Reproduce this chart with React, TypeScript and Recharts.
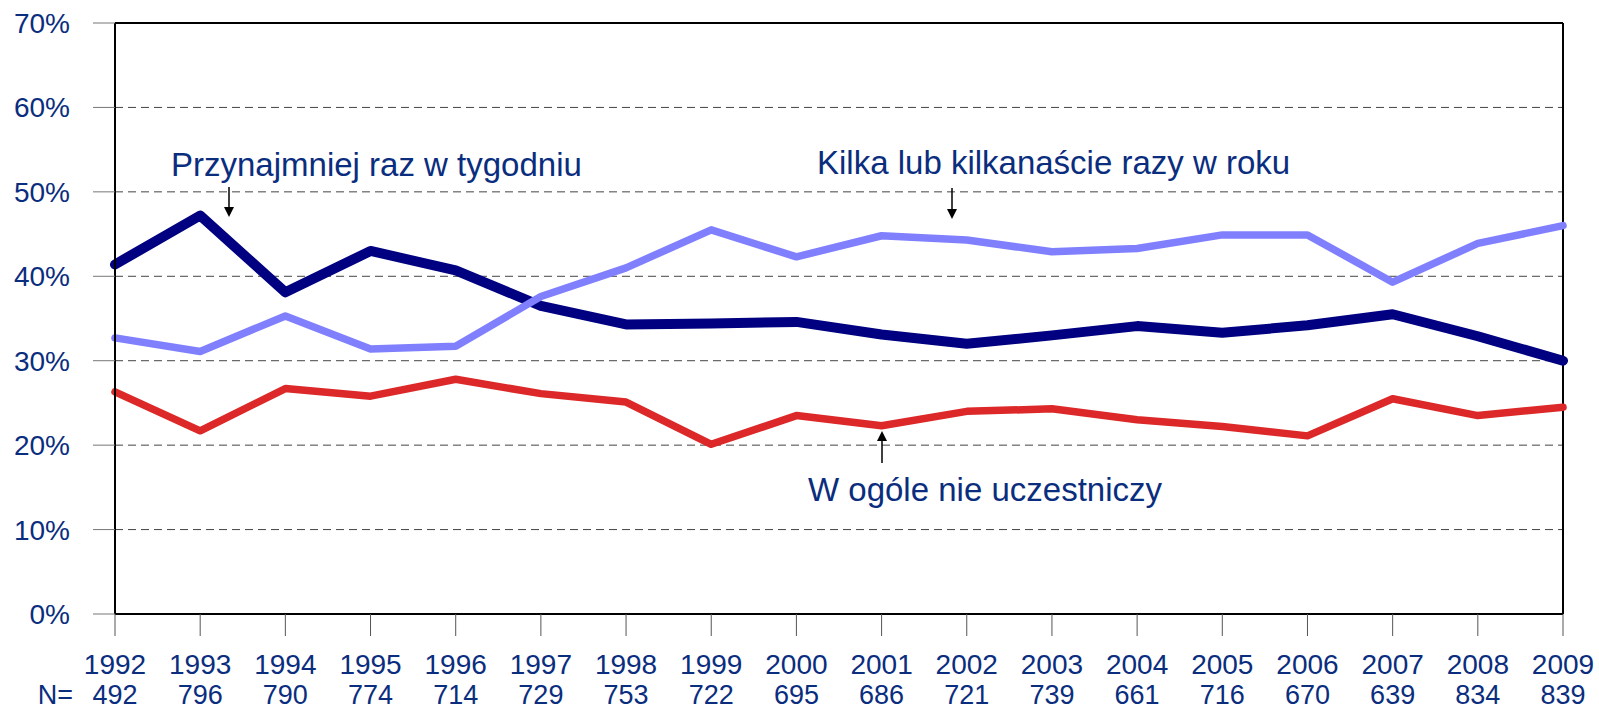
import React from "react";
import { LineChart, Line, XAxis, YAxis, CartesianGrid, ReferenceLine } from "recharts";

const years = ["1992", "1993", "1994", "1995", "1996", "1997", "1998", "1999", "2000", "2001", "2002", "2003", "2004", "2005", "2006", "2007", "2008", "2009"];
const nCounts = [492, 796, 790, 774, 714, 729, 753, 722, 695, 686, 721, 739, 661, 716, 670, 639, 834, 839];

// Przynajmniej raz w tygodniu
const weekly = [41.4, 47.2, 38.1, 43.0, 40.7, 36.5, 34.3, 34.4, 34.6, 33.1, 32.0, 33.0, 34.1, 33.3, 34.2, 35.5, 32.9, 30.0];
// Kilka lub kilkanaście razy w roku
const fewTimes = [32.7, 31.1, 35.3, 31.4, 31.7, 37.6, 41.0, 45.5, 42.3, 44.8, 44.3, 42.9, 43.3, 44.9, 44.9, 39.3, 43.9, 46.0];
// W ogóle nie uczestniczy
const never = [26.3, 21.7, 26.7, 25.8, 27.8, 26.1, 25.1, 20.1, 23.5, 22.3, 24.0, 24.3, 23.0, 22.2, 21.1, 25.5, 23.5, 24.5];

const yTicks = [0, 10, 20, 30, 40, 50, 60, 70];

const TEXT = "#0a2d7e";
const FONT = "'Liberation Sans', Arial, sans-serif";

const data = years.map((year, i) => ({
  year,
  weekly: weekly[i],
  fewTimes: fewTimes[i],
  never: never[i],
}));

function YearTick(props: any) {
  const { x, y, payload, index } = props;
  return (
    <g>
      <text x={x} y={y + 38} textAnchor="middle" fill={TEXT} fontSize={28} fontFamily={FONT}>
        {payload.value}
      </text>
      <text x={x} y={y + 68} textAnchor="middle" fill={TEXT} fontSize={27} fontFamily={FONT}>
        {nCounts[index]}
      </text>
    </g>
  );
}

function Arrow({ x, y1, y2 }: { x: number; y1: number; y2: number }) {
  // line from y1 to tip at y2
  const dir = y2 > y1 ? 1 : -1;
  return (
    <g>
      <line x1={x} y1={y1} x2={x} y2={y2 - dir * 8} stroke="#000" strokeWidth={1.5} />
      <path d={`M${x - 5},${y2 - dir * 10} L${x + 5},${y2 - dir * 10} L${x},${y2} Z`} fill="#000" />
    </g>
  );
}

export default function App() {
  return (
    <div style={{ position: "absolute", left: 0, top: 0, width: 1599, height: 710, background: "#fff" }}>
      <LineChart width={1599} height={710} data={data} margin={{ top: 23, right: 36, bottom: 0, left: 0 }}>
        <CartesianGrid vertical={false} stroke="#444" strokeDasharray="8 5" />
        <XAxis
          dataKey="year"
          height={96}
          tickSize={22}
          tickMargin={0}
          tickLine={{ stroke: "#555" }}
          axisLine={{ stroke: "#000", strokeWidth: 2 }}
          tick={<YearTick />}
          interval={0}
        />
        <YAxis
          width={115}
          domain={[0, 70]}
          ticks={yTicks}
          tickFormatter={(v: number) => `${v}%`}
          tickSize={22}
          tickMargin={23}
          tickLine={{ stroke: "#777" }}
          axisLine={{ stroke: "#000", strokeWidth: 2 }}
          tick={{ fill: TEXT, fontSize: 28, fontFamily: FONT }}
          interval={0}
        />
        <ReferenceLine y={70} stroke="#000" strokeWidth={2} />
        <ReferenceLine x="2009" stroke="#000" strokeWidth={2} />
        <Line type="linear" dataKey="weekly" stroke="#000080" strokeWidth={10} dot={false} isAnimationActive={false} strokeLinecap="round" strokeLinejoin="round" />
        <Line type="linear" dataKey="fewTimes" stroke="#8080ff" strokeWidth={7.5} dot={false} isAnimationActive={false} strokeLinecap="round" strokeLinejoin="round" />
        <Line type="linear" dataKey="never" stroke="#dc2828" strokeWidth={7.5} dot={false} isAnimationActive={false} strokeLinecap="round" strokeLinejoin="round" />
      </LineChart>
      <svg width={1599} height={710} style={{ position: "absolute", left: 0, top: 0, pointerEvents: "none" }}>
        <g fontFamily={FONT} fill={TEXT}>
          <text x={171} y={176} fontSize={33}>Przynajmniej raz w tygodniu</text>
          <text x={817} y={174} fontSize={33}>Kilka lub kilkanaście razy w roku</text>
          <text x={808} y={501} fontSize={33}>W ogóle nie uczestniczy</text>
          <text x={73} y={704} fontSize={27} textAnchor="end">N=</text>
        </g>
        <Arrow x={229} y1={187} y2={217} />
        <Arrow x={952} y1={188} y2={219} />
        <Arrow x={882} y1={463} y2={431} />
      </svg>
    </div>
  );
}
